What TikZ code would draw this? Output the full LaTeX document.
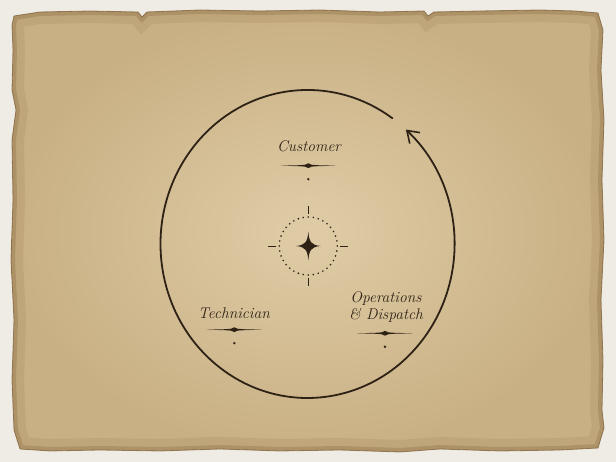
\documentclass[tikz,border=0pt]{standalone}
\usepackage{tikz}
\usetikzlibrary{arrows.meta}

\definecolor{ink}{HTML}{2E2216}
\definecolor{backdrop}{HTML}{EFECE6}
\definecolor{paperin}{HTML}{DFCCA6}
\definecolor{paperout}{HTML}{C9B084}
\definecolor{paperedge}{HTML}{7A5A32}

\begin{document}
\begin{tikzpicture}[x=1pt,y=1pt,
    role/.style={font={\fontsize{15.5}{19}\selectfont\itshape},text=ink,align=center,inner sep=0pt},
    cycle/.style={draw=ink,line width=1.8pt,line cap=round,
        -{Straight Barb[length=11pt,width=15pt,line width=1.6pt]}},
    tick/.style={draw=ink,line width=0.7pt},
    flourish/.pic={
        \fill[ink] (-28,0) -- (-10,0.45) -- (-3.5,0.9) -- (0,2.4) -- (3.5,0.9) -- (10,0.45) -- (28,0)
                -- (10,-0.45) -- (3.5,-0.9) -- (0,-2.4) -- (-3.5,-0.9) -- (-10,-0.45) -- cycle;
        \fill[ink] (0,-13.5) circle (1.3);
    }]

    \useasboundingbox (0,0) rectangle (616,462);
    \fill[backdrop] (0,0) rectangle (616,462);

    % torn paper
    \def\paper{(14,446) -- (40,450) -- (90,451) -- (138,450) -- (142,445) -- (147,450) -- (200,452)
        -- (260,451) -- (320,452) -- (380,450) -- (424,451) -- (428,446) -- (434,450) -- (480,451)
        -- (540,452) -- (575,451) -- (598,449) -- (603,432) -- (601,392) -- (604,342) -- (602,282)
        -- (604,222) -- (601,162) -- (603,102) -- (602,52) -- (604,34) -- (598,14) -- (560,12)
        -- (500,11) -- (440,13) -- (400,10) -- (340,12) -- (280,11) -- (220,13) -- (160,11)
        -- (100,12) -- (50,11) -- (20,13) -- (14,32) -- (12,82) -- (14,142) -- (11,202)
        -- (13,262) -- (12,322) -- (16,352) -- (12,372) -- (13,412) -- (12,437) -- cycle}
    \shade[inner color=paperin,outer color=paperout] \paper;
    \begin{scope}
        \clip \paper;
        \draw[paperedge,line width=24pt,opacity=0.12] \paper;
        \draw[paperedge,line width=8pt,opacity=0.25] \paper;
    \end{scope}
    \draw[paperedge,line width=0.8pt,opacity=0.7] \paper;

    % cycle arrow
    \coordinate (hub) at (307.5,218);
    \draw[cycle] (hub) ++(54.7:147pt and 154pt)
        arc[start angle=54.7,end angle=408,x radius=147pt,y radius=154pt];

    % compass star
    \coordinate (star) at (308.3,216);
    \fill[ink] (star) ++(0,14.5) .. controls +(0.8,-10.5) and +(-9.3,0.8) .. ++(12.3,-14.5)
        .. controls +(-9.3,-0.8) and +(0.8,10.5) .. ++(-12.3,-14.5)
        .. controls +(-0.8,10.5) and +(9.3,-0.8) .. ++(-12.3,14.5)
        .. controls +(9.3,0.8) and +(-0.8,-10.5) .. ++(12.3,14.5);
    \foreach \a in {0,10,...,350}
        \fill[ink] (star) ++(\a:29pt) circle (0.9);
    \foreach \a in {0,90,180,270}
        \draw[tick] (star) ++(\a:32pt) -- ++(\a:8pt);

    \node[role] (customer) at (309,316) {Customer};
    \node[role] (tech) at (234,149) {Technician};
    \node[role] (ops) at (386,155) {Operations\\[-2pt]\& Dispatch};

    \pic at (308.3,296.3) {flourish};
    \pic at (234.3,132.3) {flourish};
    \pic at (385,128.7) {flourish};

\end{tikzpicture}
\end{document}
